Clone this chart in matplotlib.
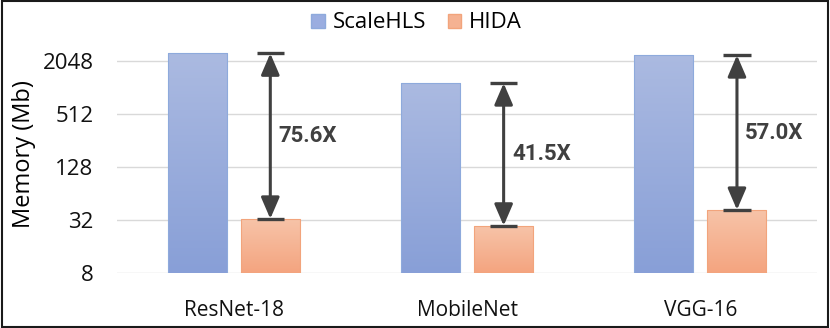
import numpy as np
import matplotlib
matplotlib.use('Agg')
import matplotlib.pyplot as plt
import matplotlib.patches as mpatches
from matplotlib.colors import LinearSegmentedColormap

# Memory footprint (Mb)
models = ['ResNet-18', 'MobileNet', 'VGG-16']
scalehls = [2518, 1154, 2400]
hida = [33.3, 27.8, 42.1]
speedups = ['75.6X', '41.5X', '57.0X']
yticks = [8, 32, 128, 512, 2048]

plt.rcParams['font.family'] = ['Open Sans', 'DejaVu Sans']

blue_top, blue_bot, blue_edge = '#abbae1', '#889fd7', '#8eaadc'
orng_top, orng_bot, orng_edge = '#f7c4a9', '#f4a47f', '#f2a47c'
dark = '#404040'
base = 8

fig = plt.figure(figsize=(8.3, 3.28), dpi=100)
ax = fig.add_axes([117 / 830, 1 - 273.3 / 328, 700 / 830, (273.3 - 34.8) / 328])

ax.set_yscale('log', base=2)
ax.set_ylim(base, 4096)
ax.set_xlim(-0.5, 2.5)

x = np.arange(len(models))
width = 0.253
off = 0.157
b1 = ax.bar(x - off, [v - base for v in scalehls], width, bottom=base, color='none',
            edgecolor=blue_edge, lw=0.8, zorder=3)
b2 = ax.bar(x + off, [v - base for v in hida], width, bottom=base, color='none',
            edgecolor=orng_edge, lw=0.8, zorder=3)

# vertical gradient inside each bar
fig.canvas.draw()
to_axes = ax.transData + ax.transAxes.inverted()
grad = np.linspace(0, 1, 256).reshape(-1, 1)
for bars, top, bot in [(b1, blue_top, blue_bot), (b2, orng_top, orng_bot)]:
    cmap = LinearSegmentedColormap.from_list('g', [top, bot])
    for r in bars:
        (ax0, ay0), (ax1, ay1) = to_axes.transform([(r.get_x(), r.get_y()),
                                                    (r.get_x() + r.get_width(), r.get_y() + r.get_height())])
        im = ax.imshow(grad, cmap=cmap, aspect='auto', extent=[ax0, ax1, ay0, ay1],
                       transform=ax.transAxes, zorder=2, interpolation='bilinear')
        im.set_clip_path(r)

# reduction arrows
cap = 0.116
for i in range(len(models)):
    xa = x[i] + off
    lo, hi = hida[i], scalehls[i]
    ax.annotate('', xy=(xa, hi), xytext=(xa, lo),
                arrowprops=dict(arrowstyle='<|-|>,head_length=0.65,head_width=0.28',
                                color=dark, lw=2.2, shrinkA=0, shrinkB=0, mutation_scale=20),
                zorder=5)
    ax.plot([xa - cap / 2, xa + cap / 2], [hi, hi], color=dark, lw=2.4, zorder=5, solid_capstyle='butt')
    ax.plot([xa - cap / 2, xa + cap / 2], [lo, lo], color=dark, lw=2.4, zorder=5, solid_capstyle='butt')
    ax.text(xa + 0.036, np.sqrt(lo * hi), speedups[i], ha='left', va='center',
            fontsize=16, fontweight='bold', color=dark, family=['Roboto', 'DejaVu Sans'], zorder=6)

ax.set_yticks(yticks)
ax.set_yticklabels([str(v) for v in yticks], fontsize=16)
ax.yaxis.set_minor_locator(matplotlib.ticker.NullLocator())
ax.set_xticks(x)
ax.set_xticklabels(models, fontsize=15)
ax.tick_params(axis='both', length=0, colors='#111111')
ax.tick_params(axis='y', pad=17)
ax.tick_params(axis='x', pad=19)
ax.grid(axis='y', color='#d9d9d9', lw=1, zorder=0)
for s in ax.spines.values():
    s.set_visible(False)

fig.text(24 / 830, 1 - 154.5 / 328, 'Memory (Mb)', rotation=90, ha='center', va='center', fontsize=17)

handles = [mpatches.Patch(facecolor='#9aade0', edgecolor=blue_edge, label='ScaleHLS'),
           mpatches.Patch(facecolor='#f5b292', edgecolor=orng_edge, label='HIDA')]
fig.legend(handles=handles, loc='center', bbox_to_anchor=(0.502, 1 - 23 / 328), ncol=2, frameon=False,
           fontsize=16, handlelength=0.6, handleheight=0.6, handletextpad=0.35, columnspacing=1.0)

fig.add_artist(mpatches.Rectangle((0.002, 0.003), 0.996, 0.994, transform=fig.transFigure,
                                  fill=False, edgecolor='#1a1a1a', lw=1.5))

fig.savefig('out.png', dpi=100)
